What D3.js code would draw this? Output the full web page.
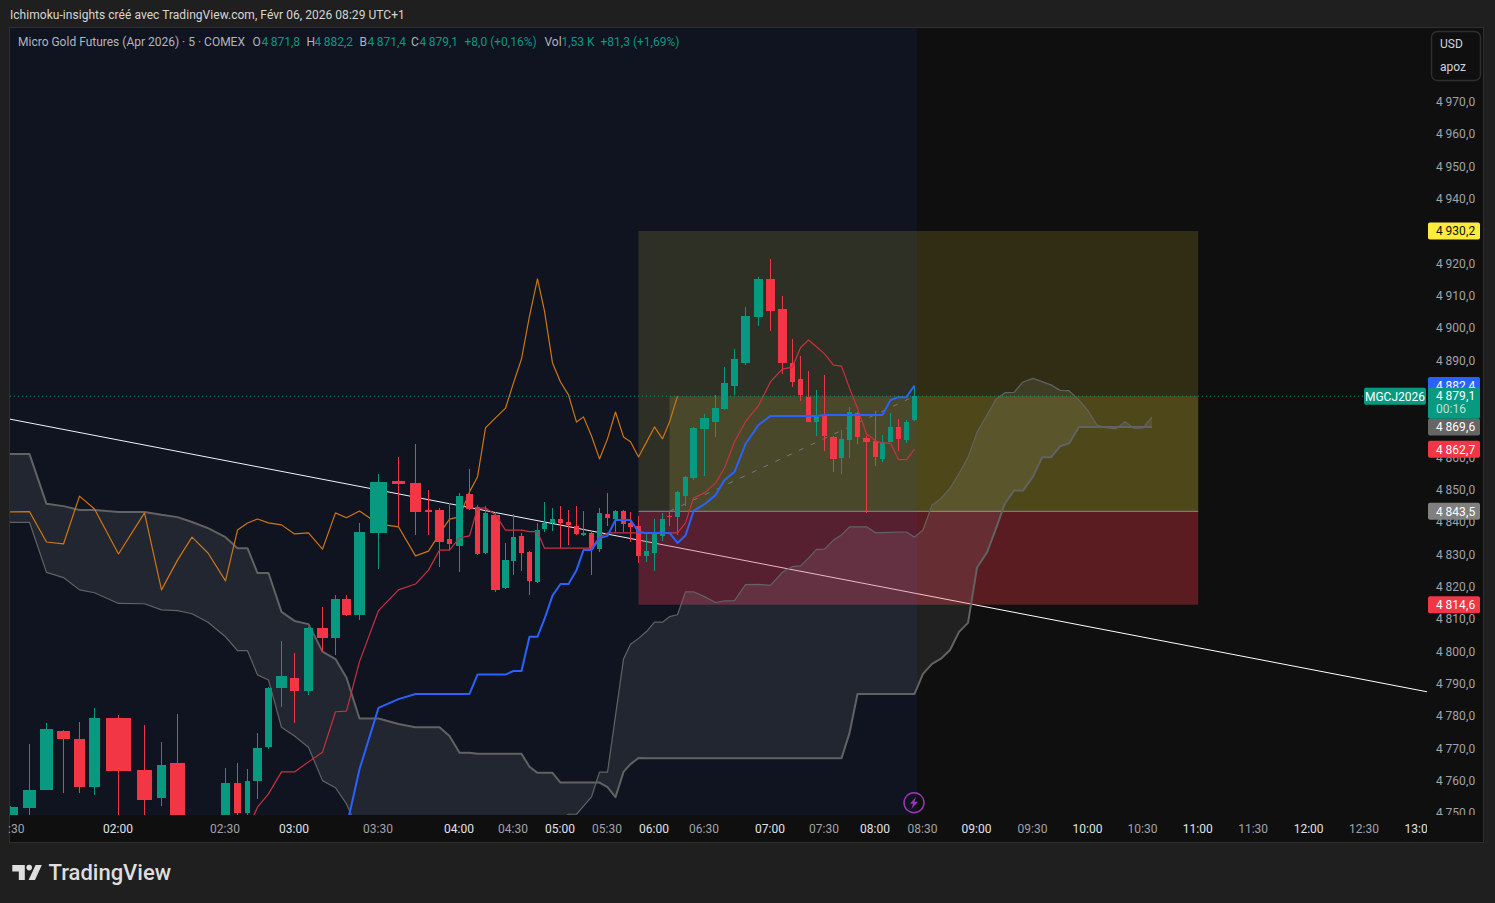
<!DOCTYPE html>
<html>
<head>
<meta charset="utf-8">
<script src="https://cdn.jsdelivr.net/npm/d3@7"></script>
<style>
  html, body { margin: 0; padding: 0; background: #1f1f1f; overflow: hidden; }
  text { font-family: Roboto, "Noto Sans", sans-serif; }
</style>
</head>
<body>
<div id="chart"></div>
<script>
// Micro Gold Futures 5 min, equivolume candles with Ichimoku and a long position drawing

// cumulative volume (K contracts) at each 5 min slot, slot 0 = 01:30, slot 83 = 08:25, last entry = 13:00
const slotVolume = [0, 5.85, 10.95, 16.05, 20.85, 25.35, 32.55, 40.35, 45.45, 50.25, 54.6, 59.4, 64.65, 68.25, 71.25, 74.25, 77.55, 81.45, 85.35, 89.55, 93.75, 97.65, 100.95, 104.85, 110.55, 116.55, 121.65, 125.55, 128.85, 131.85, 134.85, 137.85, 140.25, 142.65, 145.65, 148.65, 151.05, 153.45, 155.85, 158.25, 160.35, 162.75, 165.15, 167.55, 169.95, 172.05, 174.45, 176.85, 179.25, 181.65, 184.05, 186.15, 188.55, 190.95, 193.35, 195.75, 197.85, 200.25, 202.65, 205.05, 208.35, 211.65, 214.35, 217.35, 220.65, 224.55, 228.15, 231.75, 234.75, 237.15, 239.55, 241.95, 244.35, 247.05, 249.45, 251.85, 254.25, 256.95, 259.65, 261.75, 264.15, 266.55, 268.95, 271.35, 273.9, 276.6, 279.3, 282, 284.7, 287.4, 290.1, 293.1, 295.8, 298.5, 301.2, 303.9, 306.9, 309.6, 312.3, 315, 317.7, 320.7, 323.4, 326.1, 328.8, 331.8, 334.5, 337.2, 339.9, 342.6, 423];
const slotIndex = d3.range(110).concat(138);

const barVolume = [4.8, 3.9, 3.9, 3.9, 3.3, 3.3, 7.5, 4.5, 2.7, 4.5, null, null, 2.7, 2.1, 1.5, 2.7, 2.1, 3.3, 2.7, 2.7, 3.3, 2.7, 2.7, 3.3, 5.1, 3.9, 3.3, 2.1, 2.7, 1.5, 2.1, 2.1, 1.5, 1.5, 2.7, 2.1, 1.5, 1.5, 1.5, 1.5, 1.5, 1.5, 1.5, 1.5, 1.5, 1.5, 1.5, 1.5, 1.5, 1.5, 1.5, 1.5, 1.5, 1.5, 1.5, 1.5, 1.5, 1.5, 1.5, 2.1, 2.7, 2.1, 2.1, 2.1, 2.7, 2.7, 2.7, 2.7, 1.5, 1.5, 1.5, 1.5, 1.5, 2.1, 1.5, 1.5, 1.5, 2.1, 1.5, 1.5, 1.5, 1.5, 1.5, 1.5];
const barOpen = [4745, 4751.7, 4757.3, 4775.5, 4773.1, 4758.2, 4779.6, 4763.5, 4754.8, 4765.6, null, null, 4747, 4759.5, 4750.2, 4760.1, 4770.6, 4788.8, 4791.9, 4787.9, 4807.4, 4804.3, 4816.4, 4811.4, 4836.8, 4852.9, 4852.2, 4843.9, 4843.9, 4834.9, 4832.8, 4848.8, 4844.8, 4830.6, 4842.4, 4819.8, 4828.1, 4835.8, 4831, 4821.6, 4838, 4839.9, 4841.1, 4840.2, 4838.9, 4836.2, 4836.8, 4831.8, 4842.7, 4841.1, 4843.6, 4839.9, 4838.9, 4829.7, 4830.6, 4835.8, 4842, 4841.7, 4848.2, 4853.8, 4869, 4871.1, 4875.1, 4882.3, 4889.4, 4903.6, 4915.4, 4906.1, 4889.4, 4884.4, 4878.9, 4871.1, 4873.3, 4866.5, 4860, 4865.6, 4873.9, 4866.2, 4865.2, 4859.7, 4864.9, 4869.6, 4865.6, 4871.8];
const barHigh = [4752.3, 4771.5, 4777.9, 4775.8, 4778.3, 4782.7, 4780.5, 4777.4, 4772.1, 4780.8, null, null, 4764.1, 4765.6, 4763.8, 4774.9, 4789.2, 4803.4, 4799.7, 4807.7, 4813.9, 4817.6, 4817.6, 4839.9, 4855, 4860.3, 4864.3, 4850.1, 4844.5, 4846.1, 4849.2, 4856.6, 4845.5, 4845.2, 4843.3, 4833.7, 4842.7, 4836.8, 4831.2, 4839.9, 4846.4, 4844.5, 4845.2, 4843.9, 4845.2, 4843.6, 4837.7, 4844.5, 4849.2, 4843.9, 4843.9, 4843.3, 4842, 4836.8, 4841.1, 4843, 4843.3, 4849.8, 4854.4, 4869.6, 4873.6, 4879.5, 4888.1, 4893.7, 4906.7, 4916, 4921.5, 4910.1, 4896.8, 4891.5, 4886.9, 4881, 4885.7, 4866.7, 4868.6, 4875.8, 4874.2, 4866.7, 4874.5, 4867.1, 4873.9, 4872, 4871.7, 4882.2];
const barLow = [4740, 4748, 4757.2, 4756.5, 4756.5, 4755.8, 4745, 4748, 4752.3, 4742, null, null, 4745, 4749, 4749.5, 4754.5, 4770, 4783, 4778, 4786.7, 4800, 4799.1, 4811, 4809.9, 4825.6, 4838.9, 4836.2, 4836.2, 4826.3, 4831.5, 4824.7, 4844, 4830, 4830.4, 4818.5, 4819.5, 4823.8, 4825, 4817.6, 4821.4, 4837.1, 4837.4, 4832, 4833, 4836.2, 4836, 4823.8, 4830.9, 4838.9, 4836.8, 4837.1, 4834, 4827.5, 4827.8, 4825, 4834.3, 4838.9, 4836.2, 4845.2, 4853.2, 4854.4, 4866.5, 4874.8, 4879.5, 4888.7, 4900.8, 4899.3, 4886, 4882, 4877.6, 4871, 4866.8, 4862.1, 4855.7, 4855, 4860, 4864.3, 4843, 4857.5, 4858.7, 4864.8, 4862, 4864.6, 4871.4];
const barClose = [4752.1, 4757.3, 4776.2, 4773.1, 4758.2, 4779.6, 4763.3, 4754.2, 4765, 4745, null, null, 4759.5, 4750.2, 4760.1, 4770.3, 4788.8, 4792.5, 4787.9, 4807.4, 4804.3, 4816.4, 4811.4, 4837.1, 4852.6, 4852, 4843.3, 4843.4, 4834, 4833.4, 4848.2, 4844.2, 4830.3, 4843, 4819.2, 4828.4, 4835.5, 4830.6, 4822, 4837.7, 4839.9, 4841.1, 4839.9, 4839.3, 4836.5, 4836.8, 4831.8, 4843, 4841.5, 4843.6, 4839.6, 4838.7, 4829.7, 4831.2, 4836.5, 4841.1, 4841.8, 4849.5, 4854.1, 4869.3, 4872.4, 4875.4, 4883.2, 4890.6, 4903.9, 4915.4, 4905.4, 4889.4, 4883.5, 4879.5, 4871.1, 4872.7, 4866.8, 4859.7, 4865.9, 4874.2, 4866.5, 4865, 4860.3, 4864.9, 4869.6, 4865.9, 4871.1, 4879.1];

// conversion line starts at slot 14, base line at slot 22
const tenkanStart = 14;
const tenkan = [4745, 4752, 4756.1, 4762.9, 4762.9, 4766, 4769, 4781.5, 4781.7, 4797, 4812.8, 4819.2, 4821, 4825.3, 4831.5, 4831.5, 4835.3, 4835.9, 4844.5, 4844.5, 4842.4, 4837.7, 4837.7, 4837.7, 4837.2, 4837.2, 4832.1, 4832.1, 4832.1, 4832.1, 4832.1, 4832.1, 4832.1, 4835.5, 4836.8, 4836.8, 4836.8, 4836.8, 4836.8, 4836.8, 4836.8, 4836.8, 4836.8, 4836.8, 4839.9, 4847.6, 4849.2, 4852.2, 4856.9, 4865, 4871.2, 4876.2, 4883.6, 4887.5, 4888.1, 4894.1, 4896.5, 4894.4, 4892.2, 4888.7, 4888.4, 4881.6, 4875.4, 4867.4, 4865.3, 4864.6, 4864.6, 4859.5, 4859.5, 4862.7];
const kijunStart = 22;
const kijun = [4745.8, 4763.7, 4782.7, 4785.4, 4787, 4787, 4787, 4787, 4787, 4787, 4793, 4793, 4793, 4793, 4794.1, 4794.1, 4804.7, 4804.7, 4810.2, 4817.4, 4821, 4821, 4825.3, 4831.5, 4831.5, 4835.2, 4835.9, 4840.8, 4840.8, 4840.8, 4837.1, 4836.8, 4836.8, 4836.8, 4836.8, 4833.7, 4836, 4843.6, 4845.7, 4848.5, 4853.2, 4855.7, 4864.3, 4870.2, 4873, 4873, 4873, 4873, 4873, 4873, 4873.3, 4873.3, 4873.3, 4873.3, 4873.3, 4873.3, 4873.3, 4873.3, 4877.9, 4878.8, 4878.8, 4882.4];
// leading spans, slots 0 to 109
const spanA = [4840.1, 4840.1, 4824.6, 4823, 4819.2, 4818.3, 4815, 4814.9, 4813, 4812.8, 4811.8, 4809.2, 4804.7, 4800.4, 4800.4, 4792.9, 4791.3, 4776.7, 4774, 4770.5, 4760.2, 4758, 4753, 4744, 4743, 4742, 4742, 4742, 4743, 4743, 4744, 4744, 4745, 4745, 4745, 4746, 4746, 4746, 4747, 4747, 4748, 4748, 4748, 4749.8, 4749.8, 4752.3, 4755.2, 4762.8, 4762.8, 4780.3, 4797.8, 4802.4, 4804.2, 4806.3, 4809.2, 4809.2, 4810.9, 4811.5, 4818.6, 4818.6, 4817.1, 4815.3, 4815.8, 4815.9, 4820.8, 4820.9, 4820.6, 4824.7, 4826.4, 4826.6, 4829, 4831.7, 4831.8, 4834.6, 4836.2, 4838.7, 4838.7, 4838.7, 4836.9, 4836.9, 4837, 4837.1, 4837.1, 4835.5, 4837.7, 4845.4, 4847.5, 4850.6, 4855.2, 4860.2, 4867.9, 4873.3, 4878.2, 4880.2, 4880.3, 4883.5, 4884.6, 4883.6, 4882.6, 4880.9, 4880.8, 4877.9, 4874.6, 4870.2, 4869.4, 4869, 4871.2, 4869.2, 4869.3, 4872.7];
const spanB = [4861.2, 4861.2, 4845.8, 4845.1, 4843.9, 4843.9, 4843.3, 4843.3, 4842.4, 4841.7, 4840.2, 4838.3, 4835.5, 4832.1, 4832.1, 4824.4, 4824.4, 4812.4, 4809.6, 4808.6, 4800.1, 4797.8, 4792, 4779.4, 4779.4, 4777.7, 4776.7, 4776.7, 4776.7, 4774, 4768.8, 4768.8, 4768.5, 4768.5, 4768.5, 4768.5, 4768.5, 4768.5, 4764.5, 4762.6, 4762.6, 4762.6, 4759.6, 4759.6, 4759.6, 4759.6, 4759.6, 4759.6, 4758.2, 4755.1, 4762.9, 4765.3, 4767.2, 4767.1, 4767.1, 4767.1, 4767.1, 4767.1, 4767.1, 4767.1, 4767.1, 4767.1, 4767.1, 4767.1, 4767.1, 4767.1, 4767.1, 4767.1, 4767.1, 4767.1, 4767.1, 4767.1, 4767.1, 4767.1, 4767.1, 4774.9, 4787, 4787, 4787, 4787, 4787, 4787, 4787, 4787, 4793.2, 4796.3, 4797.9, 4800.6, 4806.2, 4809, 4826.1, 4830.8, 4838.2, 4846, 4849.9, 4849.9, 4854.2, 4860.2, 4860.2, 4863.6, 4864.5, 4869.6, 4869.6, 4869.6, 4869.6, 4869.6, 4869.6, 4869.6, 4869.6, 4869.6];
// lagging span is the close drawn 26 bars back
const chikouShift = 26;

// trend line and long position drawing
const trendSlots = [0, 140];
const trendPrices = [4872, 4787];
const positionSlots = [52, 114];
const fillStartSlot = 56;
const takeProfit = 4930.2;
const entryPrice = 4843.5;
const stopLoss = 4814.6;
const lastClose = 4879.1;
const sessionEndVolume = 272.1;

// axes
const priceTicks = d3.range(4750, 4971, 10);
const timeTicks = d3.range(0, 139, 6);
const timeLabels = ["01:30", "02:00", "02:30", "03:00", "03:30", "04:00", "04:30", "05:00", "05:30", "06:00", "06:30", "07:00", "07:30", "08:00", "08:30", "09:00", "09:30", "10:00", "10:30", "11:00", "11:30", "12:00", "12:30", "13:00"];

// price tags on the scale
const tagPrices = [4930.2, 4882.4, 4869.6, 4862.7, 4843.5, 4814.6];
const tagColors = ["#ffeb3b", "#2962ff", "#666666", "#f23645", "#808080", "#f23645"];
const tagTextColors = ["#111111", "#ffffff", "#ffffff", "#ffffff", "#ffffff", "#ffffff"];

const width = 1495;
const height = 903;
const plot = { left: 10, right: 1427, top: 28, bottom: 815 };

const green = "#089981";
const red = "#f23645";
const grey = "#626262";

const fr = d3.formatLocale({ decimal: ",", thousands: "\u2009", grouping: [3], currency: ["", ""] });
const priceFormat = fr.format(",.1f");

const svg = d3.select("#chart").append("svg")
    .attr("width", width)
    .attr("height", height)
    .style("display", "block");

// scales
const volumeScale = d3.scaleLinear().domain([0, 425.1]).range([plot.left, plot.right]);
const x = d3.scaleLinear().domain(slotIndex).range(slotVolume.map(v => volumeScale(v)));
const y = d3.scaleLinear().domain([4970, 4750]).range([102.3, 813.6]);
const barWidth = v => volumeScale(v) - volumeScale(0);

const defs = svg.append("defs");
defs.append("clipPath").attr("id", "plotClip")
    .append("rect")
    .attr("x", plot.left)
    .attr("y", plot.top)
    .attr("width", plot.right - plot.left)
    .attr("height", plot.bottom - plot.top);
defs.append("clipPath").attr("id", "timeClip")
    .append("rect").attr("x", plot.left - 3).attr("y", 0).attr("width", plot.right - plot.left + 3).attr("height", 30);
defs.append("clipPath").attr("id", "priceClip")
    .append("rect").attr("x", 0).attr("y", plot.top).attr("width", 60).attr("height", plot.bottom - plot.top);

// panel
svg.append("rect").attr("width", width).attr("height", height).attr("fill", "#1f1f1f");
svg.append("rect")
    .attr("x", 9.5).attr("y", 27.5)
    .attr("width", 1474).attr("height", 815)
    .attr("fill", "#0f0f0f")
    .attr("stroke", "#2e2e2e");

const chart = svg.append("g").attr("clip-path", "url(#plotClip)");

// trend line sits under the position box
chart.append("line")
    .attr("x1", x(trendSlots[0])).attr("y1", y(trendPrices[0]))
    .attr("x2", x(trendSlots[1])).attr("y2", y(trendPrices[1]))
    .attr("stroke", "#ffffff")
    .attr("stroke-width", 1);

// long position
const boxLeft = x(positionSlots[0]);
const boxRight = x(positionSlots[1]);

chart.append("rect")
    .attr("x", boxLeft).attr("y", y(takeProfit))
    .attr("width", boxRight - boxLeft).attr("height", y(entryPrice) - y(takeProfit))
    .attr("fill", "rgba(255,235,59,0.14)");
chart.append("rect")
    .attr("x", x(fillStartSlot)).attr("y", y(lastClose))
    .attr("width", boxRight - x(fillStartSlot)).attr("height", y(entryPrice) - y(lastClose))
    .attr("fill", "rgba(255,235,59,0.14)");
chart.append("rect")
    .attr("x", boxLeft).attr("y", y(entryPrice))
    .attr("width", boxRight - boxLeft).attr("height", y(stopLoss) - y(entryPrice))
    .attr("fill", "rgba(242,54,69,0.33)");
chart.append("line")
    .attr("x1", boxLeft).attr("y1", y(entryPrice))
    .attr("x2", boxRight).attr("y2", y(entryPrice))
    .attr("stroke", "#8c8c8c");
chart.append("line")
    .attr("x1", x(fillStartSlot)).attr("y1", y(entryPrice))
    .attr("x2", x(barClose.length - 1)).attr("y2", y(lastClose))
    .attr("stroke", "#7a7a7a")
    .attr("stroke-dasharray", "5 8");

// trading session tint
chart.append("rect")
    .attr("x", plot.left).attr("y", plot.top)
    .attr("width", volumeScale(sessionEndVolume) - plot.left).attr("height", plot.bottom - plot.top)
    .attr("fill", "rgba(41,98,255,0.075)");

// cloud
const kumo = spanA.map((a, i) => ({ i: i, a: a, b: spanB[i] }));
chart.append("path")
    .datum(kumo)
    .attr("fill", "rgba(255,255,255,0.08)")
    .attr("d", d3.area().x(d => x(d.i)).y0(d => y(d.a)).y1(d => y(d.b)));

const lineGen = d3.line().x(d => x(d[0])).y(d => y(d[1]));
const drawLine = (points, color, lineWidth) => chart.append("path")
    .datum(points)
    .attr("fill", "none")
    .attr("stroke", color)
    .attr("stroke-width", lineWidth)
    .attr("stroke-linejoin", "round")
    .attr("d", lineGen);

drawLine(spanA.map((v, i) => [i, v]), grey, 1.2);
drawLine(spanB.map((v, i) => [i, v]), grey, 2);
drawLine(barClose.slice(chikouShift).map((v, i) => [i, v]), "#d07515", 1.2);

// candles
const bars = barOpen.map((o, i) => ({ i: i, o: o, h: barHigh[i], l: barLow[i], c: barClose[i], v: barVolume[i] }))
    .filter(d => d.o !== null);

const candle = chart.append("g").selectAll("g")
    .data(bars)
    .enter().append("g")
    .attr("shape-rendering", "crispEdges")
    .attr("fill", d => d.c >= d.o ? green : red);

candle.append("rect")
    .attr("x", d => Math.round(x(d.i) - 0.5))
    .attr("y", d => y(d.h))
    .attr("width", 1)
    .attr("height", d => y(d.l) - y(d.h));

candle.append("rect")
    .attr("x", d => Math.round(x(d.i) - barWidth(d.v) / 2))
    .attr("y", d => y(Math.max(d.o, d.c)))
    .attr("width", d => Math.round(barWidth(d.v)))
    .attr("height", d => Math.max(1, Math.abs(y(d.c) - y(d.o))));

// conversion and base lines
drawLine(tenkan.map((v, i) => [i + tenkanStart, v]), "#c8323f", 1.2);
drawLine(kijun.map((v, i) => [i + kijunStart, v]), "#2962ff", 2);

// last price dotted line
chart.append("line")
    .attr("x1", plot.left).attr("y1", y(lastClose))
    .attr("x2", 1364).attr("y2", y(lastClose))
    .attr("stroke", green)
    .attr("stroke-dasharray", "1 3");

// lightning marker
const bolt = chart.append("g").attr("transform", `translate(${x(84) - 9},802.7)`);
bolt.append("circle").attr("r", 10).attr("fill", "none").attr("stroke", "#9c36b5").attr("stroke-width", 1.4);
bolt.append("path").attr("d", "M2,-6 L-4,1 L-1,1 L-2.5,6 L4,-1 L0.5,-1 Z").attr("fill", "#9c36b5");

// time axis
const timeAxis = svg.append("g")
    .attr("transform", `translate(0,${plot.bottom})`)
    .attr("clip-path", "url(#timeClip)")
    .call(d3.axisBottom(x).tickValues(timeTicks).tickSize(0).tickPadding(9)
        .tickFormat((d, i) => timeLabels[i]));

timeAxis.select(".domain").remove();
timeAxis.selectAll("text")
    .attr("dx", -1)
    .attr("font-family", "Roboto, sans-serif")
    .attr("font-size", 12)
    .attr("fill", (d, i) => timeLabels[i].endsWith(":00") ? "#e0e2e8" : "#a0a3ab");

// price axis
const priceAxis = svg.append("g")
    .attr("transform", `translate(${plot.right},0)`)
    .attr("clip-path", "url(#priceClip)")
    .call(d3.axisRight(y).tickValues(priceTicks).tickSize(0).tickPadding(9).tickFormat(priceFormat));

priceAxis.select(".domain").remove();
priceAxis.selectAll("text")
    .attr("dy", "0.26em")
    .attr("font-family", "Roboto, sans-serif")
    .attr("font-size", 12)
    .attr("letter-spacing", 0.1)
    .attr("fill", "#a0a3ab");

// price tags
const tags = svg.append("g").selectAll("g")
    .data(tagPrices)
    .enter().append("g")
    .attr("transform", d => `translate(1428,${y(d)})`);

tags.append("rect")
    .attr("y", -8.5)
    .attr("width", 52)
    .attr("height", 17)
    .attr("rx", 2)
    .attr("fill", (d, i) => tagColors[i]);

tags.append("text")
    .attr("x", 8)
    .attr("y", 4.3)
    .attr("font-size", 12)
    .attr("letter-spacing", 0.1)
    .attr("fill", (d, i) => tagTextColors[i])
    .text(d => priceFormat(d));

const lastTag = svg.append("g").attr("transform", `translate(1428,${y(lastClose)})`);
lastTag.append("rect")
    .attr("y", -8.5).attr("width", 52).attr("height", 31).attr("rx", 2)
    .attr("fill", green);
lastTag.append("text")
    .attr("x", 8).attr("y", 3.8).attr("font-size", 12).attr("letter-spacing", 0.1).attr("fill", "#ffffff")
    .text(priceFormat(lastClose));
lastTag.append("text")
    .attr("x", 8).attr("y", 17.3).attr("font-size", 12).attr("fill", "#b9e3da")
    .text("00:16");

const symbolTag = svg.append("g").attr("transform", `translate(1364,${y(lastClose)})`);
symbolTag.append("rect")
    .attr("y", -8.5).attr("width", 62).attr("height", 17).attr("rx", 2)
    .attr("fill", green);
symbolTag.append("text")
    .attr("x", 31).attr("y", 4.3).attr("text-anchor", "middle").attr("font-size", 12).attr("fill", "#ffffff")
    .text("MGCJ2026");

// currency and unit box
svg.append("rect")
    .attr("x", 1431.5).attr("y", 31.5).attr("width", 49).attr("height", 49).attr("rx", 6)
    .attr("fill", "#0f0f0f").attr("stroke", "#2e2e2e").attr("stroke-width", 1.5);
svg.append("text").attr("x", 1440).attr("y", 48).attr("font-size", 12).attr("fill", "#d1d4dc").text("USD");
svg.append("text").attr("x", 1440).attr("y", 71).attr("font-size", 12).attr("fill", "#d1d4dc").text("apoz");

// header texts
const headerGrey = "#b2b5be";
const headerItems = [
    ["Micro Gold Futures (Apr 2026) · 5 · COMEX", 18, headerGrey],
    ["O", 252.5, headerGrey], [priceFormat(barOpen[83]), 261.5, green],
    ["H", 306.5, headerGrey], [priceFormat(barHigh[83]), 314.5, green],
    ["B", 359.5, headerGrey], [priceFormat(barLow[83]), 367.5, green],
    ["C", 411, headerGrey], [priceFormat(barClose[83]), 419.5, green],
    ["+8,0 (+0,16%)", 464.5, green],
    ["Vol", 544.5, headerGrey], ["1,53 K", 561.5, green],
    ["+81,3 (+1,69%)", 600.5, green]
];

svg.append("g").selectAll("text")
    .data(headerItems)
    .enter().append("text")
    .attr("x", d => d[1])
    .attr("y", 46)
    .attr("font-size", 12)
    .attr("fill", d => d[2])
    .text(d => d[0]);

svg.append("text")
    .attr("x", 10).attr("y", 18.5)
    .attr("font-size", 12)
    .attr("letter-spacing", 0.04)
    .attr("fill", "#d6d6d6")
    .text("Ichimoku-insights créé avec TradingView.com, Févr 06, 2026 08:29 UTC+1");

// TradingView logo
const logo = svg.append("g").attr("fill", "#dedede");
logo.append("path").attr("d", "M12.3,865 H24.8 V880 H18.8 V871.5 H12.3 Z");
logo.append("circle").attr("cx", 29.2).attr("cy", 867.6).attr("r", 2.8);
logo.append("path").attr("d", "M35.6,865 H41.8 L35,880 H28.6 Z");
svg.append("text")
    .attr("x", 48.5).attr("y", 880)
    .attr("font-size", 22)
    .attr("font-weight", 500)
    .attr("fill", "#dedede")
    .text("TradingView");
</script>
</body>
</html>
